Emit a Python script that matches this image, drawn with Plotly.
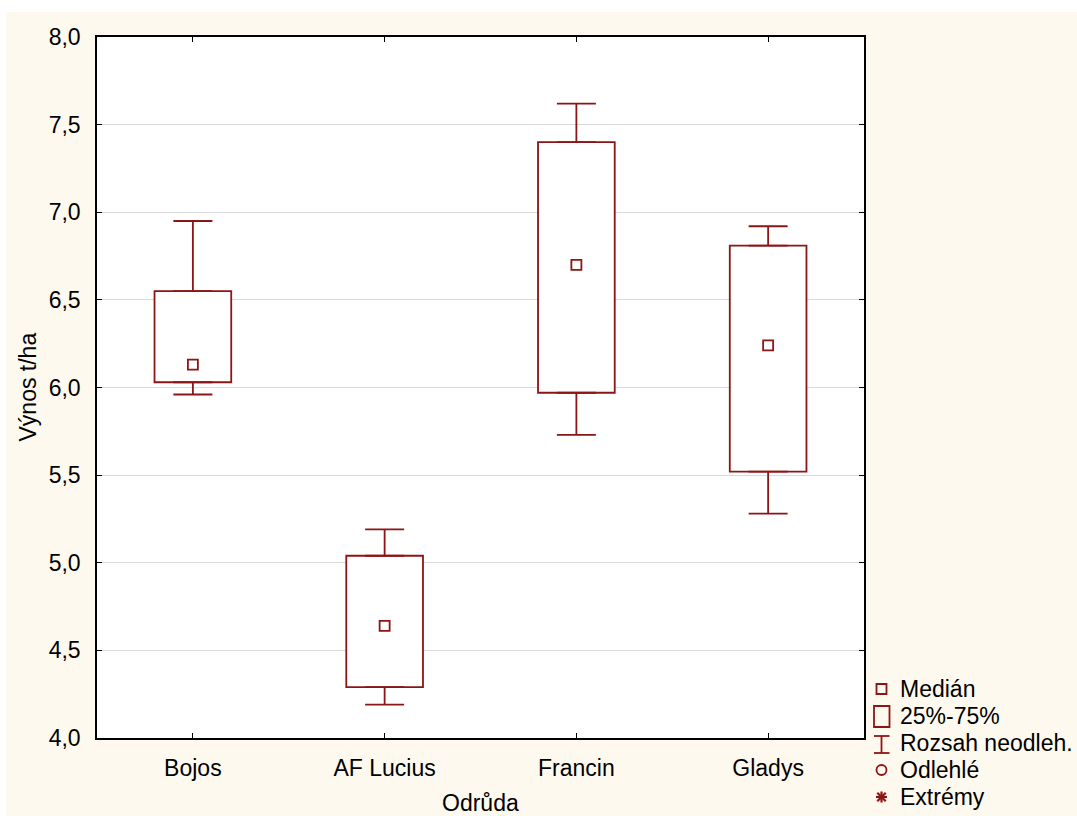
import plotly.graph_objects as go

# ---- data ----
categories = ["Bojos", "AF Lucius", "Francin", "Gladys"]
whisker_low = [5.96, 4.19, 5.73, 5.28]
q1 = [6.03, 4.29, 5.97, 5.52]
median = [6.13, 4.64, 6.70, 6.24]
q3 = [6.55, 5.04, 7.40, 6.81]
whisker_high = [6.95, 5.19, 7.62, 6.92]
y_ticks = [4.0, 4.5, 5.0, 5.5, 6.0, 6.5, 7.0, 7.5, 8.0]
legend_labels = ["Medián", "25%-75%", "Rozsah neodleh.", "Odlehlé", "Extrémy"]

RED = "#8c1515"
CREAM = "#fef9ee"
FONT = "Arial, Liberation Sans, sans-serif"
FS = 23
LW = 1.8

W, H = 1077, 816
L, R, T, B = 97, 864, 37, 738  # plot area in px


def px(x):
    return (x - L) / (R - L)


def py(y):
    return (B - y) / (B - T)


fig = go.Figure()

# boxes (25%-75%)
fig.add_trace(go.Bar(
    x=categories,
    y=[b - a for a, b in zip(q1, q3)],
    base=q1,
    width=0.4,
    marker=dict(color="white", line=dict(color=RED, width=LW)),
    hoverinfo="skip",
))

# upper whiskers
fig.add_trace(go.Scatter(
    x=categories, y=q3, mode="markers",
    marker=dict(size=1, color="rgba(0,0,0,0)"),
    error_y=dict(type="data", symmetric=False,
                 array=[h - q for h, q in zip(whisker_high, q3)],
                 arrayminus=[0] * len(q3),
                 color=RED, thickness=LW, width=19.5),
    hoverinfo="skip",
))
# lower whiskers
fig.add_trace(go.Scatter(
    x=categories, y=q1, mode="markers",
    marker=dict(size=1, color="rgba(0,0,0,0)"),
    error_y=dict(type="data", symmetric=False,
                 array=[0] * len(q1),
                 arrayminus=[q - l for q, l in zip(q1, whisker_low)],
                 color=RED, thickness=LW, width=19.5),
    hoverinfo="skip",
))
# medians
fig.add_trace(go.Scatter(
    x=categories, y=median, mode="markers",
    marker=dict(symbol="square", size=10, color="white",
                line=dict(color=RED, width=LW)),
))

shapes = []
# white strips at top and left of the cream page
shapes.append(dict(type="rect", xref="paper", yref="paper",
                   x0=px(0), x1=px(W), y0=py(0), y1=py(12),
                   fillcolor="white", line=dict(width=0), layer="above"))
shapes.append(dict(type="rect", xref="paper", yref="paper",
                   x0=px(0), x1=px(6), y0=py(0), y1=py(H),
                   fillcolor="white", line=dict(width=0), layer="above"))

# legend symbols
cx = 881.5
# median square
shapes.append(dict(type="rect", xref="paper", yref="paper",
                   x0=px(cx - 5), x1=px(cx + 5), y0=py(694), y1=py(684),
                   line=dict(color=RED, width=LW), fillcolor="rgba(0,0,0,0)"))
# box
shapes.append(dict(type="rect", xref="paper", yref="paper",
                   x0=px(874), x1=px(889.5), y0=py(727), y1=py(706),
                   line=dict(color=RED, width=LW), fillcolor="rgba(0,0,0,0)"))
# whisker I-beam
for (xa, ya, xb, yb) in [(874, 736, 889.5, 736), (874, 753, 889.5, 753), (cx, 736, cx, 753)]:
    shapes.append(dict(type="line", xref="paper", yref="paper",
                       x0=px(xa), y0=py(ya), x1=px(xb), y1=py(yb),
                       line=dict(color=RED, width=LW)))
# circle
shapes.append(dict(type="circle", xref="paper", yref="paper",
                   x0=px(cx - 5), x1=px(cx + 5), y0=py(775), y1=py(765),
                   line=dict(color=RED, width=LW)))
# asterisk
ay = 797
for (dx, dy) in [(0, 5.5), (5.5, 0), (4.2, 4.2), (4.2, -4.2)]:
    shapes.append(dict(type="line", xref="paper", yref="paper",
                       x0=px(cx - dx), y0=py(ay - dy), x1=px(cx + dx), y1=py(ay + dy),
                       line=dict(color=RED, width=2.2)))

annotations = []
for lab, yy in zip(legend_labels, [689, 716, 743, 770, 797]):
    annotations.append(dict(text=lab, xref="paper", yref="paper",
                            x=px(898), y=py(yy), xanchor="left", yanchor="middle",
                            showarrow=False, font=dict(family=FONT, size=FS, color="black")))
# axis titles
annotations.append(dict(text="Odrůda", xref="paper", yref="paper",
                        x=0.5, y=py(803), xanchor="center", yanchor="middle",
                        showarrow=False, font=dict(family=FONT, size=FS, color="black")))
annotations.append(dict(text="Výnos t/ha", xref="paper", yref="paper",
                        x=px(27), y=0.5, xanchor="center", yanchor="middle",
                        textangle=-90,
                        showarrow=False, font=dict(family=FONT, size=FS, color="black")))

fig.update_layout(
    width=W, height=H,
    margin=dict(l=L, r=W - R, t=T, b=H - B, pad=0),
    paper_bgcolor=CREAM,
    plot_bgcolor="white",
    showlegend=False,
    separators=",.",
    font=dict(family=FONT, size=FS, color="black"),
    shapes=shapes,
    annotations=annotations,
    xaxis=dict(
        type="category", range=[-0.5, 3.5],
        showline=True, linecolor="black", linewidth=1.5, mirror="ticks",
        ticks="inside", ticklen=5, tickwidth=1, tickcolor="black",
        showgrid=False, zeroline=False,
        tickfont=dict(family=FONT, size=FS, color="black"),
        ticklabelstandoff=9,
    ),
    yaxis=dict(
        range=[4, 8],
        tickvals=y_ticks,
        ticktext=[f"{v:.1f}".replace(".", ",") for v in y_ticks],
        showline=True, linecolor="black", linewidth=1.5, mirror="ticks",
        ticks="inside", ticklen=5, tickwidth=1, tickcolor="black",
        showgrid=True, gridcolor="#d9d9d9", gridwidth=1, zeroline=False,
        tickfont=dict(family=FONT, size=FS, color="black"),
        ticklabelstandoff=10,
    ),
)

fig.write_html("out.html")
